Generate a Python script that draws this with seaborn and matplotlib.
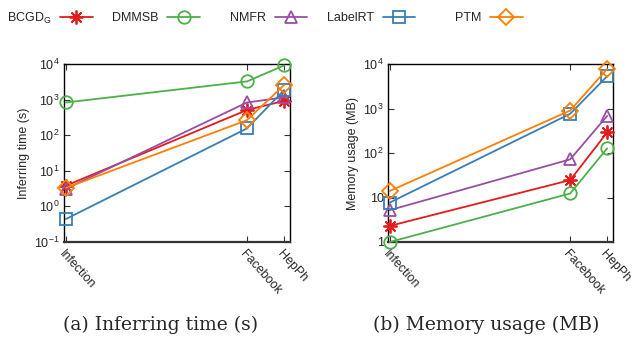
import matplotlib
matplotlib.use("Agg")
import matplotlib.pyplot as plt
from matplotlib.lines import Line2D
from matplotlib.ticker import FixedLocator, FuncFormatter, NullLocator
import numpy as np
import pandas as pd
import seaborn as sns

# ---- data -------------------------------------------------------------
datasets = ["Infection", "Facebook", "HepPh"]
x_pos = [0.0, 0.83, 1.0]
methods = ["BCGD", "DMMSB", "NMFR", "LabelRT", "PTM"]

time_bcgd = [3.8, 510, 920]
time_dmmsb = [830, 3240, 9100]
time_nmfr = [3.1, 830, 1150]
time_labelrt = [0.44, 155, 1850]
time_ptm = [3.3, 265, 2570]

mem_bcgd = [2.3, 24.6, 290]
mem_dmmsb = [1.0, 12.3, 127]
mem_nmfr = [5.2, 72, 680]
mem_labelrt = [7.7, 760, 5300]
mem_ptm = [14, 900, 7700]

legend_labels = ["BCGD$_{\\mathregular{G}}$", "DMMSB", "NMFR", "LabelRT", "PTM"]
colors = ["#e41a1c", "#4daf4a", "#984ea3", "#377eb8", "#ff7f00"]
marker_map = {"BCGD": (8, 2, 0), "DMMSB": "o", "NMFR": "^", "LabelRT": "s", "PTM": "D"}
marker_size = {"BCGD": 10, "DMMSB": 9, "NMFR": 9, "LabelRT": 9, "PTM": 8.5}

# ---- style --------------------------------------------------------------
sns.set_theme(style="ticks")
plt.rcParams["font.family"] = ["Liberation Sans", "DejaVu Sans"]
plt.rcParams["mathtext.fontset"] = "custom"
plt.rcParams["mathtext.rm"] = "Liberation Sans"
plt.rcParams["mathtext.it"] = "Liberation Sans:italic"
plt.rcParams["mathtext.bf"] = "Liberation Sans:bold"


def long_frame(series):
    rows = []
    for m, vals in zip(methods, series):
        for d, x, v in zip(datasets, x_pos, vals):
            rows.append({"method": m, "dataset": d, "x": x, "value": v})
    return pd.DataFrame(rows)


time_df = long_frame([time_bcgd, time_dmmsb, time_nmfr, time_labelrt, time_ptm])
mem_df = long_frame([mem_bcgd, mem_dmmsb, mem_nmfr, mem_labelrt, mem_ptm])

fig = plt.figure(figsize=(6.39, 3.37), dpi=100)
ax1 = fig.add_axes([64 / 639, 1 - 242 / 337, 226 / 639, 178 / 337])
ax2 = fig.add_axes([388 / 639, 1 - 242 / 337, 225 / 639, 178 / 337])

LW = 1.3
MEW = 1.3


def draw(ax, df, ylim, ylabel, fmt):
    for m, c in zip(methods, colors):
        sub = df[df["method"] == m]
        sns.lineplot(data=sub, x="x", y="value", color=c,
                     marker=marker_map[m], markersize=marker_size[m],
                     linewidth=LW, ax=ax, legend=False, sort=False,
                     clip_on=False, zorder=3, mfc="none", mec=c, mew=MEW)
    ax.set_yscale("log")
    ax.set_ylim(*ylim)
    ax.set_xlim(-0.008, 1.027)
    ax.set_xticks(x_pos)
    ax.set_xticklabels(datasets, rotation=-48, ha="left", va="top",
                       rotation_mode="anchor", fontsize=9)
    ax.yaxis.set_major_locator(FixedLocator([10.0 ** k for k in range(-1, 5)]))
    ax.yaxis.set_minor_locator(NullLocator())
    ax.yaxis.set_major_formatter(FuncFormatter(fmt))
    ax.tick_params(axis="both", which="major", direction="in", length=4,
                   width=0.8, top=True, right=True, labelsize=9, pad=3,
                   color="#333333")
    ax.tick_params(axis="x", pad=4)
    for s in ax.spines.values():
        s.set_linewidth(1.0)
        s.set_color("black")
    ax.spines["bottom"].set_linewidth(1.6)
    ax.spines["bottom"].set_color("#333333")
    ax.set_xlabel("")
    ax.set_ylabel(ylabel, fontsize=9, labelpad=3)


def sci_fmt(v, pos):
    k = int(round(np.log10(v)))
    return "10$^{\\mathregular{%d}}$" % k


def mem_fmt(v, pos):
    k = int(round(np.log10(v)))
    if k == 0:
        return "1"
    if k == 1:
        return "10"
    return "10$^{\\mathregular{%d}}$" % k


draw(ax1, time_df, (0.1, 1e4), "Inferring time (s)", sci_fmt)
draw(ax2, mem_df, (1, 1e4), "Memory usage (MB)", mem_fmt)

# ---- legend across the top ----------------------------------------------
legend_x = [7, 112, 230, 327, 455]
for m, lab, c, lx in zip(methods, legend_labels, colors, legend_x):
    h = Line2D([], [], color=c, linewidth=LW, marker=marker_map[m],
               markersize=marker_size[m], markerfacecolor="none",
               markeredgecolor=c, markeredgewidth=MEW)
    fig.legend([h], [lab], loc="center left",
               bbox_to_anchor=(lx / 639, 1 - 18 / 337), frameon=False,
               markerfirst=False, handlelength=2.6, handletextpad=0.7,
               borderpad=0, borderaxespad=0, fontsize=9)

# ---- sub-captions --------------------------------------------------------
fig.text(161 / 639, 1 - 325 / 337, "(a) Inferring time (s)", ha="center",
         va="center", fontsize=13.5, family=["DejaVu Serif"])
fig.text(486 / 639, 1 - 325 / 337, "(b) Memory usage (MB)", ha="center",
         va="center", fontsize=13.5, family=["DejaVu Serif"])

fig.savefig("out.png", dpi=100)
